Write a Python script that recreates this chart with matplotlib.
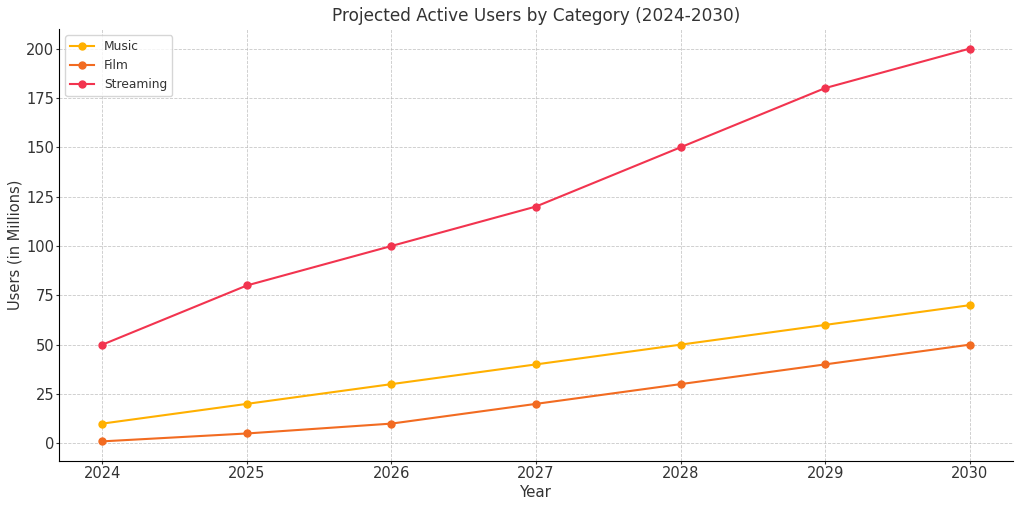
import matplotlib
matplotlib.use("Agg")
import matplotlib.pyplot as plt

years = [2024, 2025, 2026, 2027, 2028, 2029, 2030]
music = [10, 20, 30, 40, 50, 60, 70]
film = [1, 5, 10, 20, 30, 40, 50]
streaming = [50, 80, 100, 120, 150, 180, 200]

fig = plt.figure(figsize=(10.22, 5.07), dpi=100)
ax = fig.add_axes([59/1022, 1-461/507, (1013-59)/1022, (461-29)/507])

ax.plot(years, music, marker='o', markersize=5, linewidth=1.5, color='#FFB000', label='Music')
ax.plot(years, film, marker='o', markersize=5, linewidth=1.5, color='#F26B21', label='Film')
ax.plot(years, streaming, marker='o', markersize=5, linewidth=1.5, color='#F2344F', label='Streaming')

ax.set_title('Projected Active Users by Category (2024-2030)', fontsize=12.2, color='#333333')
ax.set_xlabel('Year', fontsize=10.8, color='#333333', labelpad=3)
ax.set_ylabel('Users (in Millions)', fontsize=10.5, color='#333333', labelpad=2.5)
ax.set_xticks(years)
ax.tick_params(labelsize=10.5, colors='#333333', length=2, pad=1.5, width=0.8)
ax.grid(True, linestyle='--', linewidth=0.6, color='#bbbbbb', alpha=0.8)
ax.spines['top'].set_visible(False)
ax.spines['right'].set_visible(False)
leg = ax.legend(loc='upper left', fontsize=8.8)
for t in leg.get_texts():
    t.set_color('#333333')

fig.savefig('out.png', dpi=100)
